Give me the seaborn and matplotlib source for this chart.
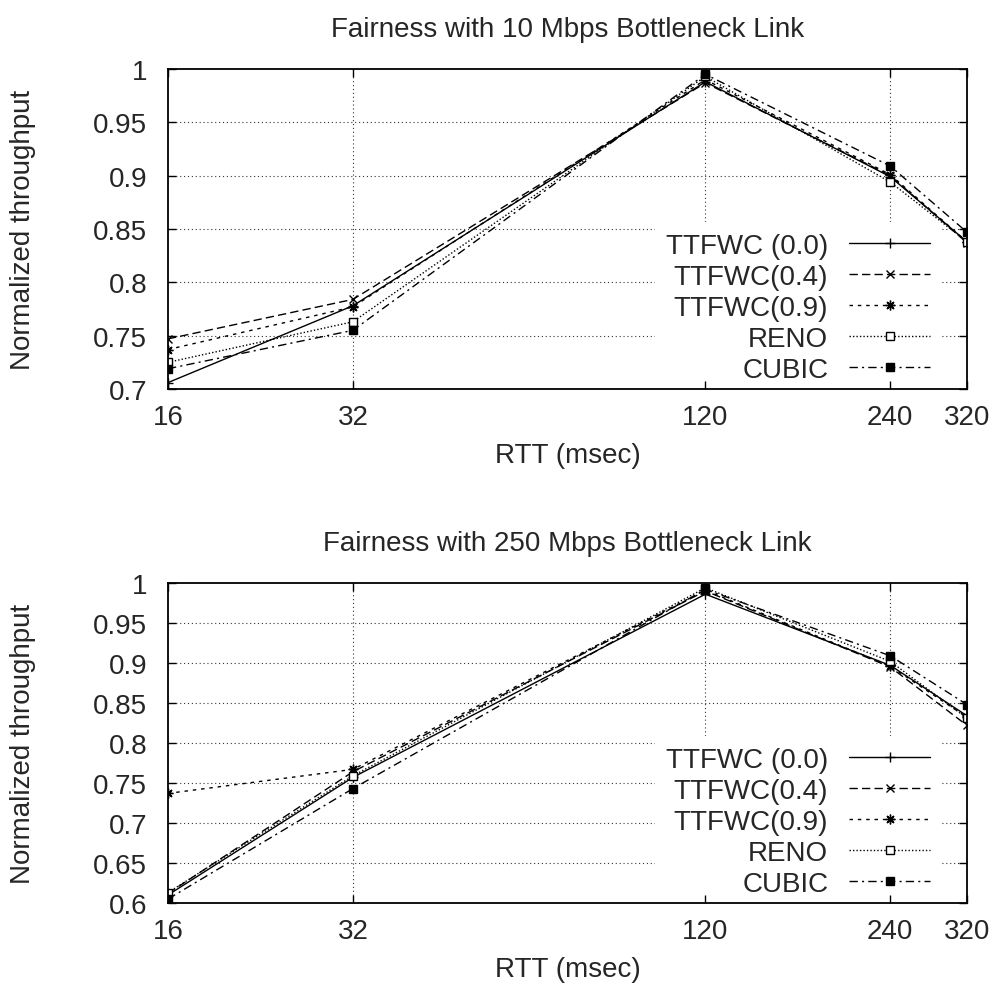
import matplotlib
matplotlib.use("Agg")
import matplotlib.pyplot as plt
import seaborn as sns

# RTT values on the x axis (msec)
rtt = [16, 32, 120, 240, 320]
rtt_labels = ["16", "32", "120", "240", "320"]

series_names = ["TTFWC (0.0)", "TTFWC(0.4)", "TTFWC(0.9)", "RENO", "CUBIC"]

# Normalized throughput, 10 Mbps bottleneck
ttfwc00_10 = [0.706, 0.778, 0.988, 0.899, 0.838]
ttfwc04_10 = [0.747, 0.784, 0.987, 0.900, 0.837]
ttfwc09_10 = [0.737, 0.777, 0.990, 0.901, 0.838]
reno_10 = [0.725, 0.763, 0.993, 0.894, 0.838]
cubic_10 = [0.719, 0.755, 0.995, 0.909, 0.847]

# Normalized throughput, 250 Mbps bottleneck
ttfwc00_250 = [0.610, 0.757, 0.986, 0.897, 0.834]
ttfwc04_250 = [0.612, 0.764, 0.990, 0.895, 0.822]
ttfwc09_250 = [0.737, 0.767, 0.991, 0.896, 0.832]
reno_250 = [0.613, 0.759, 0.994, 0.902, 0.831]
cubic_250 = [0.605, 0.743, 0.992, 0.909, 0.848]

yticks_10 = [0.7, 0.75, 0.8, 0.85, 0.9, 0.95, 1.0]
ytick_labels_10 = ["0.7", "0.75", "0.8", "0.85", "0.9", "0.95", "1"]
yticks_250 = [0.6, 0.65, 0.7, 0.75, 0.8, 0.85, 0.9, 0.95, 1.0]
ytick_labels_250 = ["0.6", "0.65", "0.7", "0.75", "0.8", "0.85", "0.9", "0.95", "1"]

sns.set_style("ticks")
plt.rcParams["font.family"] = ["Liberation Sans", "DejaVu Sans"]
plt.rcParams["font.size"] = 20

# gnuplot-like line types: solid, dashed, short dashes, dotted, dash-dot
styles = [
    dict(linestyle="-", marker="+", markersize=7, markerfacecolor="black"),
    dict(linestyle=(0, (6, 3)), marker="x", markersize=6, markerfacecolor="black"),
    dict(linestyle=(0, (2.5, 3.5)), marker=(8, 2, 0), markersize=7, markerfacecolor="black"),
    dict(linestyle=(0, (1, 1.5)), marker="s", markersize=5.5, markerfacecolor="white"),
    dict(linestyle=(0, (6, 3, 1.5, 3)), marker="s", markersize=5.5, markerfacecolor="black"),
]

fig = plt.figure(figsize=(10.03, 10.03), dpi=100)
W, H = 1003.0, 1003.0
ax_left, ax_right = 168 / W, 967 / W
ax_h = 320 / H
ax_top = fig.add_axes([ax_left, 1 - 390 / H, ax_right - ax_left, ax_h])
ax_bot = fig.add_axes([ax_left, 1 - 904 / H, ax_right - ax_left, ax_h])

panels = [
    (ax_top, [ttfwc00_10, ttfwc04_10, ttfwc09_10, reno_10, cubic_10],
     yticks_10, ytick_labels_10, "Fairness with 10 Mbps Bottleneck Link"),
    (ax_bot, [ttfwc00_250, ttfwc04_250, ttfwc09_250, reno_250, cubic_250],
     yticks_250, ytick_labels_250, "Fairness with 250 Mbps Bottleneck Link"),
]

for ax, data, yt, ytl, title in panels:
    for name, vals, st in zip(series_names, data, styles):
        sns.lineplot(x=rtt, y=vals, ax=ax, color="black", linewidth=1.0,
                     markeredgecolor="black", markeredgewidth=1.0,
                     label=name, zorder=2, **st)

    ax.set_xscale("log")
    ax.set_xlim(rtt[0], rtt[-1])
    ax.set_xticks(rtt)
    ax.set_xticklabels(rtt_labels)
    ax.xaxis.set_minor_locator(matplotlib.ticker.NullLocator())
    ax.set_ylim(yt[0], yt[-1])
    ax.set_yticks(yt)
    ax.set_yticklabels(ytl)

    # dotted grid beneath the key box
    for y in yt[1:-1]:
        ax.axhline(y, color="#333333", linewidth=0.8, linestyle=(0, (1, 2.5)), zorder=0.8)
    for x in rtt[1:-1]:
        ax.axvline(x, color="#333333", linewidth=0.8, linestyle=(0, (1, 2.5)), zorder=0.8)

    ax.set_axisbelow(False)
    ax.tick_params(axis="both", which="major", direction="in", length=6, width=1.0,
                   top=True, right=True, labelsize=20, color="black")
    ax.tick_params(axis="x", pad=11)
    ax.tick_params(axis="y", pad=15)
    for sp in ax.spines.values():
        sp.set_visible(True)
        sp.set_linewidth(1.3)
        sp.set_color("black")
        sp.set_zorder(2.5)

    ax.set_title(title, fontsize=20, pad=24)
    ax.set_xlabel("RTT (msec)", fontsize=20)
    ax.set_ylabel("Normalized throughput", fontsize=20)
    ax.xaxis.label.set_va("center")
    ax.xaxis.set_label_coords(0.5, -0.205)
    ax.yaxis.label.set_va("center")
    ax.yaxis.set_label_coords(-0.1815, 0.5)

    leg = ax.legend(loc="upper right", bbox_to_anchor=(0.9675, 0.523),
                    markerfirst=False, frameon=True, fancybox=False,
                    facecolor="white", edgecolor="none", framealpha=1.0,
                    fontsize=20, handlelength=2.9, handletextpad=0.76,
                    labelspacing=0.18, borderpad=0.4, borderaxespad=0.0,
                    numpoints=1)
    leg.set_zorder(1.0)

fig.savefig("out.png", dpi=100)
